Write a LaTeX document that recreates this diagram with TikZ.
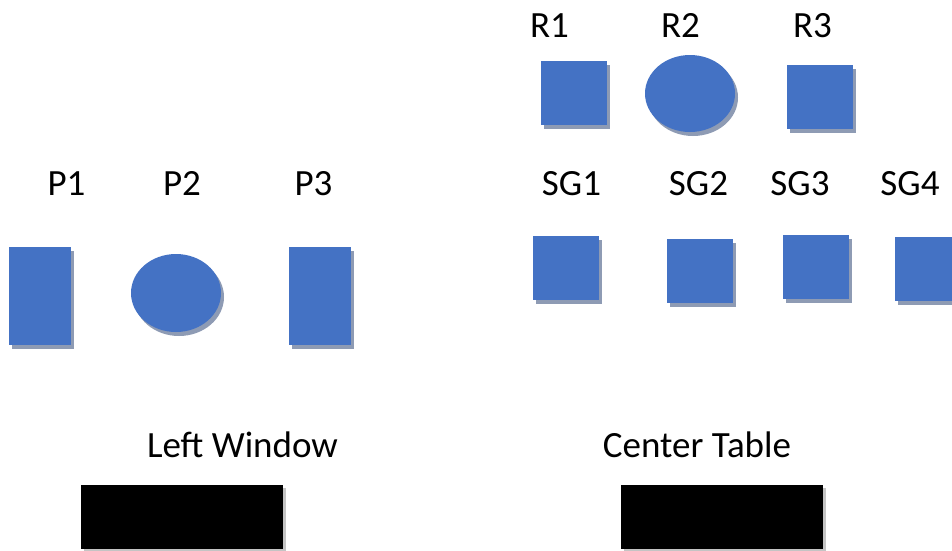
\documentclass[tikz,border=0pt]{standalone}
\usepackage{fontspec}
\setmainfont{Carlito}
\usetikzlibrary{shapes.geometric}
\usetikzlibrary{shadows}
\definecolor{chairblue}{HTML}{4472C4}
\definecolor{shadeblue}{HTML}{8E9BB4}
\definecolor{shadegray}{HTML}{C4C4C4}

\begin{document}
\begin{tikzpicture} [x=1pt, y=-1pt,
  lbl/.style={font=\fontsize{37}{44}\selectfont, anchor=base, inner sep=0},
  seat/.style={fill=chairblue, inner sep=0,
    drop shadow={shadow xshift=3pt, shadow yshift=-4pt, fill=shadeblue, opacity=1}},
  rnd/.style={seat, ellipse},
  blk/.style={fill=black, inner sep=0, minimum width=202, minimum height=64,
    drop shadow={shadow xshift=3pt, shadow yshift=-3pt, fill=shadegray, opacity=1}}]
\useasboundingbox (0,0) rectangle (952,550);
\clip (0,0) rectangle (952,550);
% labels
\node[lbl] (tp1) at (66.5,195) {P1};
\node[lbl] (tp2) at (182,195) {P2};
\node[lbl] (tp3) at (313.5,195) {P3};
\node[lbl] (tr1) at (549.5,37) {R1};
\node[lbl] (tr2) at (680.5,37) {R2};
\node[lbl] (tr3) at (812.5,37) {R3};
\node[lbl] (tsg1) at (571.5,195) {SG1};
\node[lbl] (tsg2) at (698.5,195) {SG2};
\node[lbl] (tsg3) at (800,195) {SG3};
\node[lbl] (tsg4) at (910,195) {SG4};
\node[lbl] (tlwin) at (242.5,457) {Left Window};
\node[lbl] (tctab) at (697,457) {Center Table};
% left group
\node[seat, minimum width=62, minimum height=98] (p1) at (40,296) {};
\node[rnd, minimum width=90, minimum height=78] (p2) at (176,293) {};
\node[seat, minimum width=62, minimum height=98] (p3) at (320,296) {};
% right group
\node[seat, minimum width=66, minimum height=64] (r1) at (574,93) {};
\node[rnd, minimum width=90, minimum height=77] (r2) at (690,93.5) {};
\node[seat, minimum width=66, minimum height=64] (r3) at (820,97) {};
\foreach \n/\x/\y in {sg1/566/268, sg2/700/271, sg3/816/267, sg4/928/269}
  \node[seat, minimum width=66, minimum height=64] (\n) at (\x,\y) {};
% windows and table
\node[blk] (lwin) at (182,517) {};
\node[blk] (ctab) at (722,517) {};
\end{tikzpicture}
\end{document}
